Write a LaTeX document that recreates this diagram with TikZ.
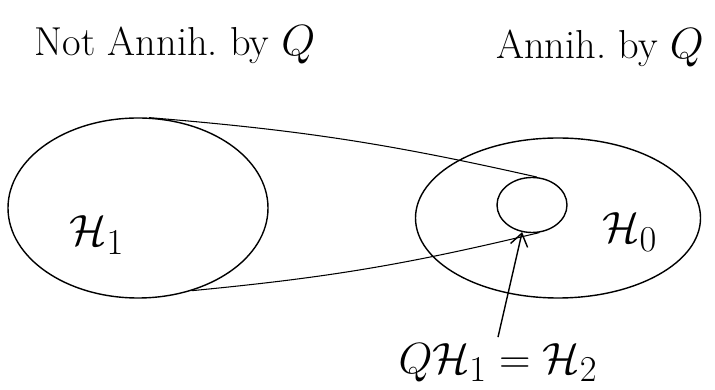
\documentclass[tikz,border=0pt]{standalone}
\usepackage{amssymb}
\usepackage{tikz}
\usetikzlibrary{shapes.geometric,arrows.meta}

\begin{document}
\begin{tikzpicture}[every node/.style={font=\fontsize{23}{28}\selectfont},
    blob/.style={draw, ellipse, thick, inner sep=0pt},
    space/.style={font=\fontsize{32}{38}\selectfont}]
            \useasboundingbox (0,0) rectangle (14.3,7.8);
            \node (notann) at (3.5,6.9) {Not Annih.\ by $Q$};
            \node (ann) at (12.0,6.85) {Annih.\ by $Q$};
            \node[blob, minimum width=5.2cm, minimum height=3.6cm] (hone) at (2.76,3.64) {};
            \node[blob, minimum width=5.7cm, minimum height=3.2cm] (hzero) at (11.16,3.44) {};
            \node[blob, minimum width=1.4cm, minimum height=1.1cm] (img) at (10.64,3.7) {};
            \node[space] (hone lbl) at (1.94,3.1) {$\mathcal{H}_1$};
            \node[space] (hzero lbl) at (12.6,3.16) {$\mathcal{H}_0$};
            \node[font=\fontsize{29}{34}\selectfont] (imglbl) at (9.96,0.55) {$Q\mathcal{H}_1=\mathcal{H}_2$};
            \draw[semithick] (hone.83) to[bend left=4] (img.80);
            \draw[semithick] (hone.-57) to[bend right=4] (img.-75);
            \draw[thick, -{Straight Barb[length=2.5mm,width=3.5mm]}] (imglbl.north) -- (img.250);
        \end{tikzpicture}
\end{document}
